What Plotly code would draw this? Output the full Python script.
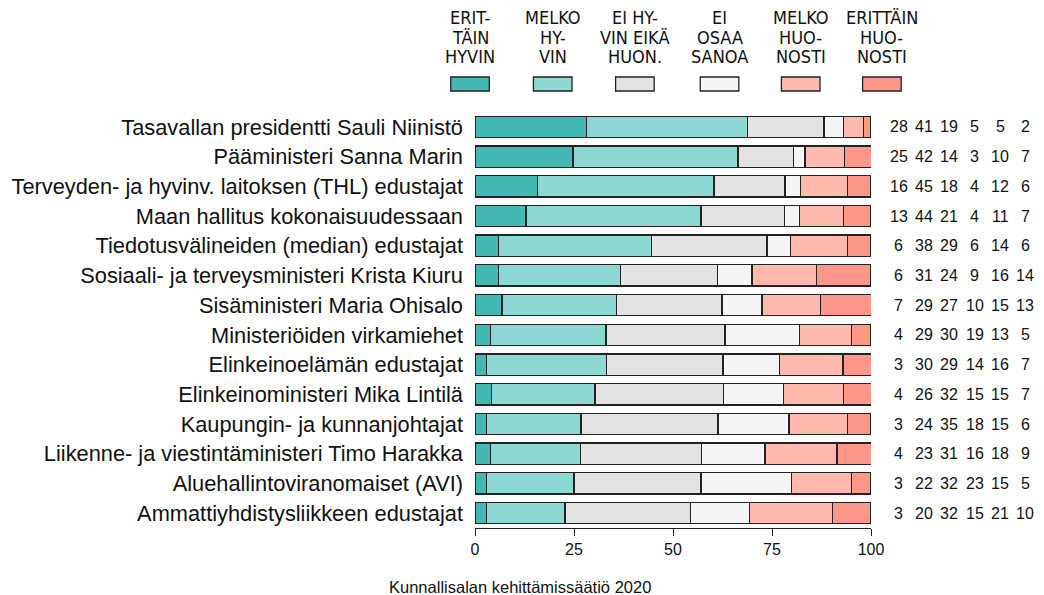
import plotly.graph_objects as go

categories = [
    "Tasavallan presidentti Sauli Niinistö",
    "Pääministeri Sanna Marin",
    "Terveyden- ja hyvinv. laitoksen (THL) edustajat",
    "Maan hallitus kokonaisuudessaan",
    "Tiedotusvälineiden (median) edustajat",
    "Sosiaali- ja terveysministeri Krista Kiuru",
    "Sisäministeri Maria Ohisalo",
    "Ministeriöiden virkamiehet",
    "Elinkeinoelämän edustajat",
    "Elinkeinoministeri Mika Lintilä",
    "Kaupungin- ja kunnanjohtajat",
    "Liikenne- ja viestintäministeri Timo Harakka",
    "Aluehallintoviranomaiset (AVI)",
    "Ammattiyhdistysliikkeen edustajat",
]

series_names = ["ERIT-<br>TÄIN<br>HYVIN", "MELKO<br>HY-<br>VIN", "EI HY-<br>VIN EIKÄ<br>HUON.",
                "EI<br>OSAA<br>SANOA", "MELKO<br>HUO-<br>NOSTI", "ERITTÄIN<br>HUO-<br>NOSTI"]

# bar lengths
erittain_hyvin = [28.1, 24.75, 15.75, 12.9, 6.0, 6.0, 6.8, 3.9, 2.9, 4.1, 2.9, 3.9, 2.9, 2.9]
melko_hyvin = [40.8, 41.7, 44.6, 44.2, 38.5, 30.8, 28.9, 29.2, 30.25, 26.2, 23.9, 22.75, 22.1, 19.8]
ei_hyvin_eika = [19.2, 14.0, 17.9, 21.0, 29.25, 24.4, 26.7, 30.0, 29.5, 32.4, 34.6, 30.6, 32.1, 31.8]
ei_osaa = [5.0, 2.85, 4.0, 3.9, 6.0, 8.75, 10.1, 18.9, 14.2, 15.2, 17.9, 16.0, 22.9, 14.8]
melko_huonosti = [5.0, 10.0, 11.85, 11.1, 14.3, 16.25, 14.8, 13.0, 16.1, 15.1, 14.75, 18.2, 15.0, 21.0]
erittain_huonosti = [1.9, 6.75, 5.9, 6.9, 5.9, 13.8, 12.75, 5.0, 7.1, 7.1, 5.9, 8.6, 5.0, 9.7]

# printed (rounded) values on the right
lbl_eh = [28, 25, 16, 13, 6, 6, 7, 4, 3, 4, 3, 4, 3, 3]
lbl_mh = [41, 42, 45, 44, 38, 31, 29, 29, 30, 26, 24, 23, 22, 20]
lbl_ei = [19, 14, 18, 21, 29, 24, 27, 30, 29, 32, 35, 31, 32, 32]
lbl_eos = [5, 3, 4, 4, 6, 9, 10, 19, 14, 15, 18, 16, 23, 15]
lbl_mhu = [5, 10, 12, 11, 14, 16, 15, 13, 16, 15, 15, 18, 15, 21]
lbl_ehu = [2, 7, 6, 7, 6, 14, 13, 5, 7, 7, 6, 9, 5, 10]

x_ticks = [0, 25, 50, 75, 100]
caption = "Kunnallisalan kehittämissäätiö 2020"

colors = ["#44B9B4", "#8DD8D3", "#E3E3E3", "#F5F5F5", "#FFBAAD", "#FF968A"]

W, H = 1044, 595
L, R, T, B = 471, 871, 112, 528

def px2x(px):
    return (px - L) / (R - L)

def py2y(py):
    return (B - py) / (B - T)

fig = go.Figure()
all_series = [erittain_hyvin, melko_hyvin, ei_hyvin_eika, ei_osaa, melko_huonosti, erittain_huonosti]
for name, vals, col in zip(series_names, all_series, colors):
    fig.add_trace(go.Bar(
        y=categories, x=vals, orientation="h", name=name,
        marker=dict(color=col, line=dict(color="#222222", width=1.3)),
        width=0.72, showlegend=False, hoverinfo="x+y",
    ))

annotations = []
# numbers on the right
all_labels = [lbl_eh, lbl_mh, lbl_ei, lbl_eos, lbl_mhu, lbl_ehu]
for j, lab in enumerate(all_labels):
    for cat, v in zip(categories, lab):
        annotations.append(dict(
            x=px2x(899 + 25.6 * j), xref="paper", y=cat, yref="y",
            text=str(v), showarrow=False, xanchor="center", yanchor="middle",
            font=dict(size=16, color="#111111", family="Liberation Sans, Arial, sans-serif"),
        ))

# custom legend
shapes = []
box_centers = [466, 549.5, 632.5, 718, 800, 882]
for name, col, cx in zip(series_names, colors, box_centers):
    shapes.append(dict(
        type="rect", xref="paper", yref="paper",
        x0=px2x(cx - 19.5), x1=px2x(cx + 19.5), y0=py2y(91), y1=py2y(77),
        fillcolor=col, line=dict(color="#222222", width=1.3),
    ))
    for k, line in enumerate(name.split("<br>")):
        annotations.append(dict(
            x=px2x(cx), xref="paper", y=py2y([17, 37.5, 57][k]), yref="paper",
            text=line, showarrow=False, xanchor="center", yanchor="middle",
            font=dict(size=18, color="#111111",
                      family="Liberation Sans Narrow, Arial Narrow, DejaVu Sans Condensed, sans-serif"),
        ))

annotations.append(dict(
    x=px2x(516), xref="paper", y=py2y(587), yref="paper", text=caption,
    showarrow=False, xanchor="center", yanchor="middle",
    font=dict(size=16.5, color="#111111", family="Liberation Sans, Arial, sans-serif"),
))

fig.update_layout(
    barmode="stack",
    width=W, height=H,
    margin=dict(l=L, r=W - R, t=T, b=H - B, pad=0),
    plot_bgcolor="white", paper_bgcolor="white",
    font=dict(family="Liberation Sans, Arial, sans-serif", color="#111111"),
    annotations=annotations, shapes=shapes,
    xaxis=dict(range=[0, 100], tickvals=x_ticks, showgrid=False, zeroline=False,
               showline=True, linecolor="#222222", linewidth=1, ticks="outside",
               ticklen=7, tickcolor="#222222", tickfont=dict(size=16), fixedrange=True),
    yaxis=dict(range=[13.5, -0.5], showgrid=False, zeroline=False, showline=False,
               ticks="", ticklabelstandoff=11, tickfont=dict(size=21.8), fixedrange=True,
               categoryorder="array", categoryarray=categories),
)

fig.write_html("out.html", config={"displayModeBar": False},
               post_script="document.body.style.margin='0';document.body.style.overflow='hidden';")
